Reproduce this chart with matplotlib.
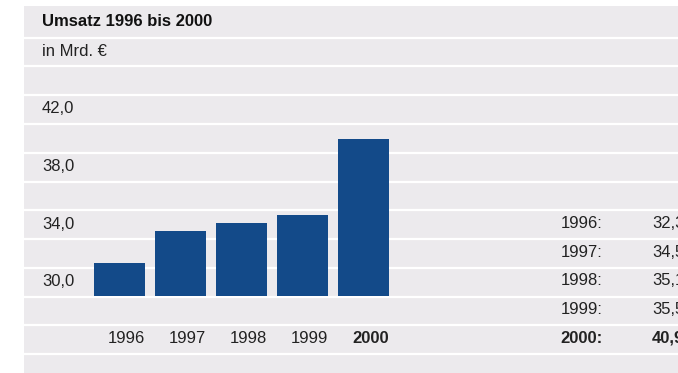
import matplotlib
matplotlib.use("Agg")
import matplotlib.pyplot as plt

plt.rcParams['font.family'] = ['Liberation Sans', 'DejaVu Sans']
plt.rcParams['font.size'] = 12

years = ['1996', '1997', '1998', '1999', '2000']
umsatz = [32.3, 34.5, 35.1, 35.6, 40.9]
umsatz_text = ['32,3', '34,5', '35,1', '35,5', '40,9']
ytick_labels = ['30,0', '34,0', '38,0', '42,0']

W, H = 678, 373
base = 30.0
ppu = 14.39          # pixels per unit on y
pitch = 61.0         # pixels per bar slot
x0 = 119.5           # pixel centre of first bar

fig = plt.figure(figsize=(W / 100, H / 100), dpi=100)
ax = fig.add_axes([0, 0, 1, 1])
ax.set_xlim(-x0 / pitch, (W - x0) / pitch)
ax.set_ylim(base - (H - 296) / ppu, base + 296 / ppu)
ax.axis('off')

def fx(px):
    return px / W

grey = '#ECEAED'
blue = '#134A89'
txt = '#222222'

# background stripes
ax.axhspan(ax.get_ylim()[0], 50.15, xmin=fx(24), xmax=1, color=grey, zorder=0, lw=0)
for v in range(26, 50, 2):
    ax.axhline(v - 0.05, xmin=fx(24), xmax=1, color='white', lw=1.6, zorder=1)

# bars
xs = list(range(len(years)))
ax.bar(xs, [u - base for u in umsatz], bottom=base, width=51 / pitch,
       color=blue, zorder=2)

# y labels (sit in the stripe rows)
for i, lab in enumerate(ytick_labels):
    ax.text(fx(42), 31 + 4 * i, lab, transform=ax.get_yaxis_transform(),
            ha='left', va='center', color=txt)

# year labels under bars
for i, y in enumerate(years):
    ax.text(i + 25.5 / pitch, 27.05, y, ha='right', va='center', color=txt,
            fontweight='bold' if y == '2000' else 'normal')

# title
ax.text(fx(42), 49.1, 'Umsatz 1996 bis 2000', transform=ax.get_yaxis_transform(),
        ha='left', va='center', fontweight='bold', color='#111111')
ax.text(fx(42), 47.0, 'in Mrd. €', transform=ax.get_yaxis_transform(),
        ha='left', va='center', color=txt)

# table on the right
for i, (y, t) in enumerate(zip(years, umsatz_text)):
    row = 35.05 - 2 * i
    w = 'bold' if y == '2000' else 'normal'
    ax.text(fx(603), row, y + ':', transform=ax.get_yaxis_transform(),
            ha='right', va='center', color=txt, fontweight=w)
    ax.text(fx(652), row, t, transform=ax.get_yaxis_transform(),
            ha='left', va='center', color=txt, fontweight=w, clip_on=False)

fig.savefig('out.png', dpi=100)
